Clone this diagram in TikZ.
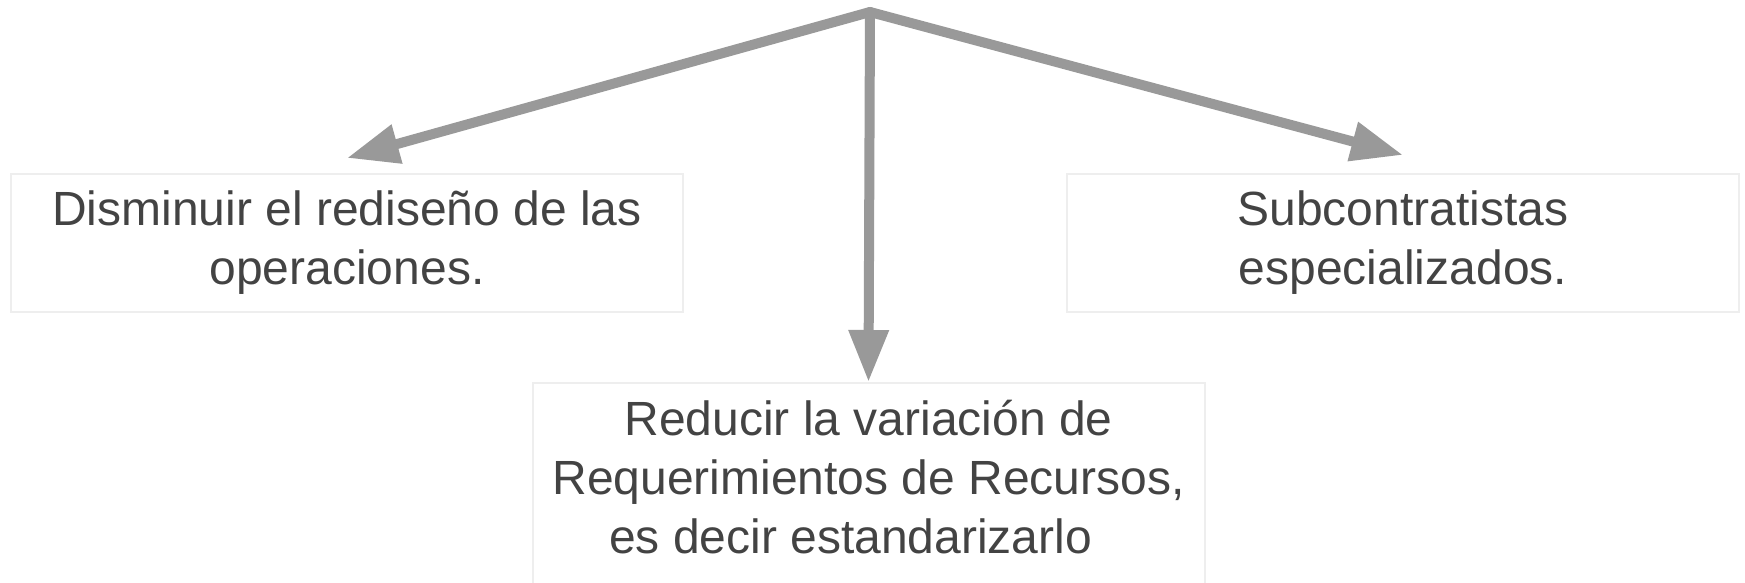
\documentclass[tikz,border=0pt]{standalone}
\usepackage{fontspec}
\setmainfont{Liberation Sans}
\usetikzlibrary{arrows.meta}
\definecolor{linegray}{HTML}{999999}
\definecolor{boxgray}{HTML}{EEEEEE}
\definecolor{textgray}{HTML}{434343}
\tikzset{
  goal/.style={draw=boxgray,line width=1pt,minimum width=336pt,minimum height=69pt,text=textgray,align=center,font=\fontsize{24}{29.5}\selectfont},
  link/.style={draw=linegray,line width=5pt,line cap=round,-{Triangle[length=26pt,width=19pt]}},
}
\begin{document}
\begin{tikzpicture}[x=0.5pt,y=-0.5pt]
        \useasboundingbox (0,0) rectangle (1745,583);
        \clip (0,0) rectangle (1745,583);
        \node[goal] (dis) at (347,243) {Disminuir el rediseño de las\\operaciones.};
        \node[goal] (sub) at (1403,243) {Subcontratistas\\especializados.};
        \node[goal,minimum height=130pt,anchor=north] (red) at (868.5,382) {};
        \node[goal,draw=none] (redtxt) at (868.5,477) {Reducir la variación de\\Requerimientos de Recursos,\\es decir estandarizarlo\hspace*{18pt}};
        \coordinate (top) at (870,12);
        \draw[link] (top) -- ([yshift=7.5pt]dis.north);
        \draw[link] (top) -- ([yshift=9pt]sub.north);
        \draw[link] (top) -- (red.north);
    \end{tikzpicture}
\end{document}
